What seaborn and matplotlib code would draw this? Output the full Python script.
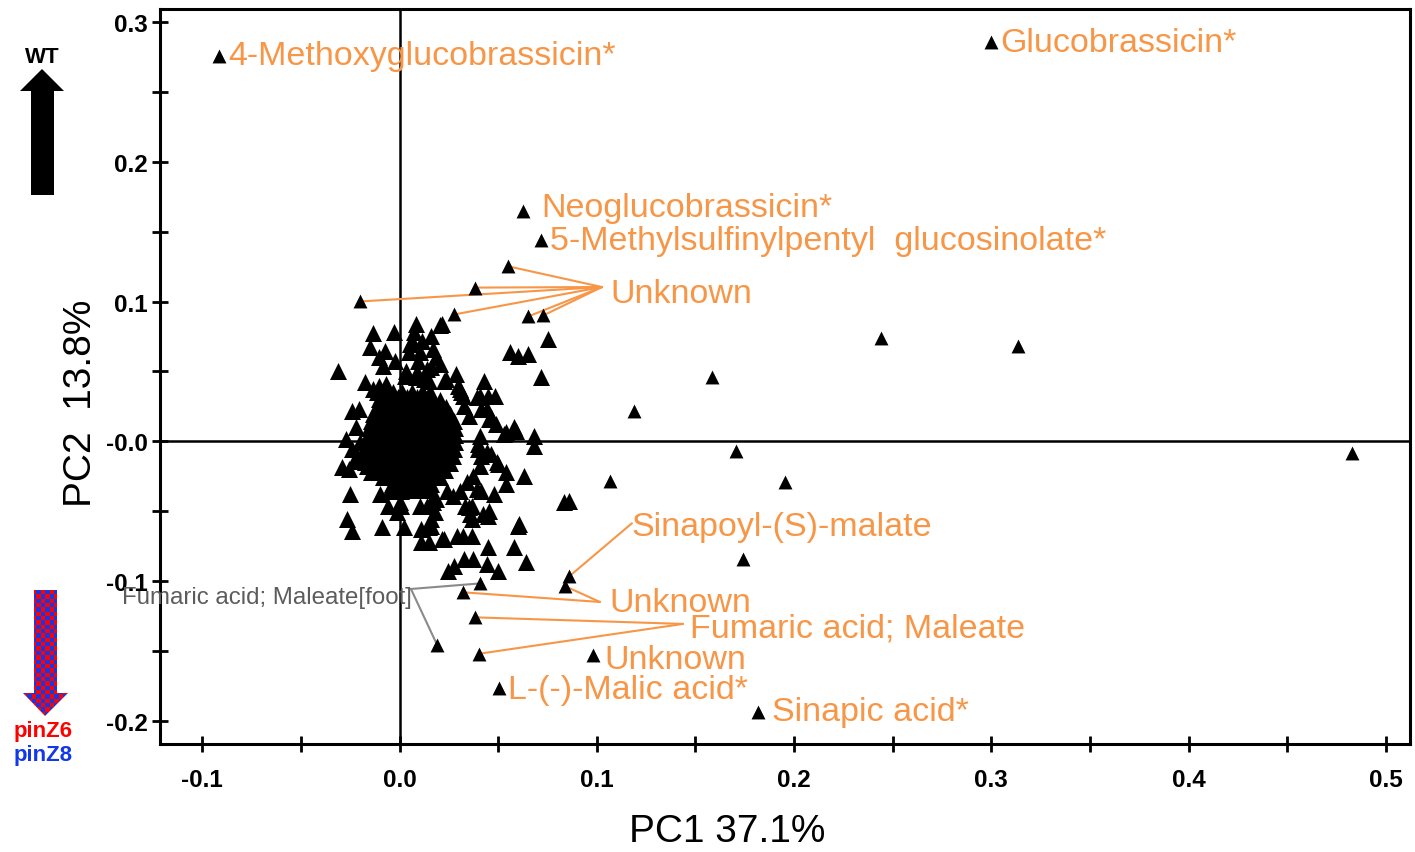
import numpy as np
import pandas as pd
import matplotlib
matplotlib.use("Agg")
import matplotlib.pyplot as plt
from matplotlib.patches import Polygon
from matplotlib.colors import ListedColormap
import seaborn as sns

# ---------------- loadings: annotated metabolites ----------------
single_names = ["4-Methoxyglucobrassicin*", "Glucobrassicin*", "Neoglucobrassicin*",
                "5-Methylsulfinylpentyl  glucosinolate*", "Unknown",
                "L-(-)-Malic acid*", "Sinapic acid*"]
single_pc1 = [-0.0916, 0.2997, 0.0628, 0.0719, 0.0982, 0.0506, 0.1818]
single_pc2 = [0.2760, 0.2854, 0.1645, 0.1438, -0.1531, -0.1767, -0.1939]

unknown_top_pc1 = [0.0552, 0.0385, -0.0198, 0.0278, 0.0653, 0.0729]
unknown_top_pc2 = [0.1252, 0.1100, 0.1001, 0.0908, 0.0894, 0.0901]

sinapoyl_pc1 = [0.0861]
sinapoyl_pc2 = [-0.0965]

unknown_mid_pc1 = [0.0841, 0.0324]
unknown_mid_pc2 = [-0.1037, -0.1080]

fumaric_pc1 = [0.0385, 0.0405]
fumaric_pc2 = [-0.1259, -0.1519]

fumaric_foot_pc1 = [0.0410, 0.0192]
fumaric_foot_pc2 = [-0.1016, -0.1460]

# ---------------- loadings: remaining features ----------------
far_pc1 = [0.2440, 0.3134, 0.1585, 0.1190, 0.1706, 0.4830, 0.1068, 0.1954, 0.1740]
far_pc2 = [0.0737, 0.0680, 0.0458, 0.0220, -0.0072, -0.0086, -0.0286, -0.0293, -0.0844]

upper_pc1 = [0.0086, 0.0203, -0.0132, -0.0030, -0.0152, -0.0076, 0.0076, 0.0116,
             0.0162, 0.0051, 0.0096, -0.0106, -0.0086, -0.0025, 0.0046, 0.0172,
             0.0187, 0.0203, 0.0162, -0.0314, 0.0035, -0.0177, -0.0106, -0.0066,
             0.0086, 0.0122, 0.0152, 0.0228, -0.0243, -0.0203, -0.0116, -0.0106]
upper_pc2 = [0.0837, 0.0830, 0.0773, 0.0780, 0.0672, 0.0644, 0.0780, 0.0715,
             0.0751, 0.0694, 0.0572, 0.0601, 0.0536, 0.0572, 0.0637, 0.0658,
             0.0601, 0.0551, 0.0529, 0.0501, 0.0501, 0.0422, 0.0393, 0.0408,
             0.0458, 0.0443, 0.0429, 0.0429, 0.0215, 0.0229, 0.0351, 0.0300]

right_pc1 = [0.0719, 0.0562, 0.0603, 0.0653, 0.0754, 0.0284, 0.0238, 0.0430,
             0.0410, 0.0451, 0.0486, 0.0213, 0.0441, 0.0415, 0.0491, 0.0466,
             0.0582, 0.0542, 0.0684, 0.0314, 0.0299, 0.0329, 0.0354]
right_pc2 = [0.0458, 0.0637, 0.0608, 0.0622, 0.0730, 0.0479, 0.0443, 0.0429,
             0.0322, 0.0322, 0.0322, 0.0837, 0.0229, 0.0229, 0.0122, 0.0172,
             0.0100, 0.0064, 0.0036, 0.0351, 0.0393, 0.0250, 0.0179]

lowleft_pc1 = [-0.0243, -0.0233, -0.0294, -0.0258, -0.0253, -0.0268, -0.0243, -0.0091,
               -0.0051, -0.0056, 0.0010, 0.0010, 0.0025, 0.0111, 0.0137, 0.0162,
               0.0162, 0.0111, 0.0147, 0.0213, 0.0187, -0.0142, -0.0177]
lowleft_pc2 = [-0.0057, -0.0143, -0.0186, -0.0200, -0.0379, -0.0558, -0.0644, -0.0615,
               -0.0358, -0.0465, -0.0358, -0.0465, -0.0615, -0.0629, -0.0465, -0.0558,
               -0.0608, -0.0722, -0.0722, -0.0701, -0.0415, -0.0222, -0.0150]

lowright_pc1 = [0.0684, 0.0633, 0.0542, 0.0481, 0.0415, 0.0365, 0.0365, 0.0456,
                0.0451, 0.0603, 0.0324, 0.0365, 0.0289, 0.0451, 0.0582, 0.0228,
                0.0329, 0.0375, 0.0441, 0.0643, 0.0835, 0.0861, 0.0501, 0.0542,
                0.0466, 0.0415, 0.0400, 0.0532, 0.0592, 0.0608, 0.0501, 0.0248,
                0.0278, 0.0147, 0.0354, 0.0157]
lowright_pc2 = [-0.0036, -0.0250, -0.0308, -0.0379, -0.0358, -0.0465, -0.0558, -0.0501,
                -0.0536, -0.0608, -0.0680, -0.0680, -0.0680, -0.0758, -0.0758, -0.0701,
                -0.0844, -0.0844, -0.0880, -0.0866, -0.0436, -0.0429, -0.0165, -0.0222,
                -0.0093, -0.0107, -0.0021, 0.0050, 0.0072, -0.0594, -0.0930, -0.0930,
                -0.0894, -0.0615, -0.0472, -0.0451]

ring_pc1 = [-0.0134, -0.0063, 0.0307, 0.0322, 0.0393, 0.0456, 0.0408, 0.0398,
            0.0443, 0.0494, 0.0408, 0.0372, 0.0342, 0.0393, 0.0307, 0.0241,
            0.0155, 0.0104, 0.0038, -0.0099, 0.0003, -0.0013, 0.0104, 0.0170,
            0.0180, 0.0271, 0.0332, 0.0357, 0.0423, -0.0215, -0.0165, -0.0200,
            -0.0150, -0.0134, -0.0114, -0.0063, 0.0028, 0.0089, 0.0139, 0.0104,
            0.0063, -0.0270, -0.0220, -0.0190]
ring_pc2 = [0.0375, 0.0318, 0.0375, 0.0325, 0.0318, 0.0158, 0.0039, -0.0054,
            -0.0075, -0.0147, -0.0176, -0.0248, -0.0290, -0.0340, -0.0355, -0.0355,
            -0.0340, -0.0326, -0.0290, -0.0376, -0.0433, -0.0505, -0.0462, -0.0433,
            -0.0505, -0.0390, -0.0462, -0.0519, -0.0519, -0.0104, -0.0176, -0.0004,
            0.0039, -0.0054, -0.0219, -0.0248, 0.0468, 0.0497, 0.0519, 0.0640,
            0.0718, 0.0020, 0.0100, -0.0080]

# dense core of the loadings, one PC2 level per row
core_pc2_levels = [0.032, 0.027, 0.022, 0.017, 0.012, 0.007, 0.002, -0.003,
                   -0.008, -0.013, -0.018, -0.023, -0.028, -0.032]
core_pc1_rows = [
    [-0.001, 0.004, 0.009, 0.013],
    [-0.006, -0.001, 0.004, 0.009, 0.014, 0.018],
    [-0.009, -0.004, 0.001, 0.006, 0.011, 0.016, 0.021],
    [-0.011, -0.006, -0.001, 0.004, 0.009, 0.014, 0.019, 0.023],
    [-0.013, -0.008, -0.003, 0.002, 0.007, 0.012, 0.017, 0.022, 0.025],
    [-0.013, -0.009, -0.004, 0.001, 0.006, 0.011, 0.016, 0.021, 0.025],
    [-0.014, -0.010, -0.005, 0.000, 0.005, 0.010, 0.015, 0.020, 0.025],
    [-0.013, -0.008, -0.003, 0.002, 0.007, 0.012, 0.017, 0.022, 0.026],
    [-0.013, -0.009, -0.004, 0.001, 0.006, 0.011, 0.016, 0.020, 0.025],
    [-0.011, -0.006, -0.001, 0.004, 0.009, 0.014, 0.019, 0.023],
    [-0.009, -0.005, 0.000, 0.005, 0.010, 0.015, 0.020],
    [-0.006, -0.002, 0.003, 0.008, 0.013, 0.018],
    [-0.002, 0.003, 0.008, 0.013],
    [0.001, 0.006, 0.011],
]
core2_pc2_levels = [0.035, 0.0295, 0.0245, 0.0195, 0.0145, 0.0095, 0.0045, -0.0005,
                    -0.0055, -0.0105, -0.0155, -0.0205, -0.0255, -0.0305, -0.035]
core2_pc1_rows = [
    [-0.0035, 0.0015, 0.0065, 0.0115, 0.0155],
    [-0.0085, -0.0035, 0.0015, 0.0065, 0.0115, 0.0165, 0.0205],
    [-0.0115, -0.0065, -0.0015, 0.0035, 0.0085, 0.0135, 0.0185, 0.0235],
    [-0.0135, -0.0085, -0.0035, 0.0015, 0.0065, 0.0115, 0.0165, 0.0215, 0.0255],
    [-0.0145, -0.0105, -0.0055, -0.0005, 0.0045, 0.0095, 0.0145, 0.0195, 0.0245, 0.0275],
    [-0.0155, -0.0115, -0.0065, -0.0015, 0.0035, 0.0085, 0.0135, 0.0185, 0.0235, 0.0280],
    [-0.0160, -0.0115, -0.0065, -0.0015, 0.0035, 0.0085, 0.0135, 0.0185, 0.0235, 0.0280],
    [-0.0160, -0.0115, -0.0065, -0.0015, 0.0035, 0.0085, 0.0135, 0.0185, 0.0235, 0.0280],
    [-0.0155, -0.0110, -0.0060, -0.0010, 0.0040, 0.0090, 0.0140, 0.0190, 0.0240, 0.0275],
    [-0.0145, -0.0100, -0.0050, 0.0000, 0.0050, 0.0100, 0.0150, 0.0200, 0.0250, 0.0270],
    [-0.0130, -0.0085, -0.0035, 0.0015, 0.0065, 0.0115, 0.0165, 0.0215, 0.0255],
    [-0.0110, -0.0065, -0.0015, 0.0035, 0.0085, 0.0135, 0.0185, 0.0230],
    [-0.0085, -0.0035, 0.0015, 0.0065, 0.0115, 0.0165, 0.0205],
    [-0.0040, 0.0010, 0.0060, 0.0110, 0.0160],
    [0.0010, 0.0060, 0.0110],
]

x_ticks = [-0.1, 0.0, 0.1, 0.2, 0.3, 0.4, 0.5]
x_tick_labels = ["-0.1", "0.0", "0.1", "0.2", "0.3", "0.4", "0.5"]
x_minor = [-0.05, 0.05, 0.15, 0.25, 0.35, 0.45]
y_ticks = [-0.2, -0.1, 0.0, 0.1, 0.2, 0.3]
y_tick_labels = ["-0.2", "-0.1", "-0.0", "0.1", "0.2", "0.3"]
y_minor = [-0.15, -0.05, 0.05, 0.15, 0.25]

# ---------------- assemble frames ----------------
def flatten_rows(levels, rows):
    xs = [x for row in rows for x in row]
    ys = [lvl for lvl, row in zip(levels, rows) for _ in row]
    return xs, ys

core_x, core_y = flatten_rows(core_pc2_levels, core_pc1_rows)
core2_x, core2_y = flatten_rows(core2_pc2_levels, core2_pc1_rows)

cluster = pd.DataFrame({
    "PC1": core_x + core2_x + upper_pc1 + right_pc1 + lowleft_pc1 + lowright_pc1 + ring_pc1,
    "PC2": core_y + core2_y + upper_pc2 + right_pc2 + lowleft_pc2 + lowright_pc2 + ring_pc2,
})
outer = pd.DataFrame({
    "PC1": far_pc1 + single_pc1 + unknown_top_pc1 + sinapoyl_pc1 + unknown_mid_pc1
           + fumaric_pc1 + fumaric_foot_pc1,
    "PC2": far_pc2 + single_pc2 + unknown_top_pc2 + sinapoyl_pc2 + unknown_mid_pc2
           + fumaric_pc2 + fumaric_foot_pc2,
})

# ---------------- figure ----------------
sns.set_style("white")
plt.rcParams["font.family"] = ["Liberation Sans", "DejaVu Sans"]
plt.rcParams["text.color"] = "black"
plt.rcParams["xtick.color"] = "black"
plt.rcParams["ytick.color"] = "black"
plt.rcParams["axes.labelcolor"] = "black"

W, H = 1415, 853
fig = plt.figure(figsize=(W / 100, H / 100), dpi=100)
ax = fig.add_axes([160 / W, 1 - 745 / H, 1250 / W, 735 / H])

ax.axhline(0, color="black", lw=1.8, zorder=1)
ax.axvline(0, color="black", lw=1.8, zorder=1)

sns.scatterplot(data=cluster, x="PC1", y="PC2", marker="^", s=150, color="black",
                linewidth=0, ax=ax, zorder=3, legend=False)
sns.scatterplot(data=outer, x="PC1", y="PC2", marker="^", s=100, color="black",
                linewidth=0, ax=ax, zorder=3, legend=False)

ORANGE = "#F79646"
GREY_TEXT = "#5C5C5C"
GREY_LINE = "#8A8A8A"
LABEL_FS = 24.5

# labels sitting next to a single point
single_offsets = [(7, 0), (7, 0), (13, 3), (6, 0), (8, -3), (6, -1), (10, 1)]
for name, x, y, off in zip(single_names, single_pc1, single_pc2, single_offsets):
    ax.annotate(name, (x, y), xytext=off, textcoords="offset points",
                ha="left", va="center", color=ORANGE, fontsize=LABEL_FS, zorder=4)

# labels with leader lines fanning out to several points
leader_groups = [
    ("Unknown", unknown_top_pc1, unknown_top_pc2, (0.1026, 0.1104), (6, -5), "left", ORANGE, ORANGE, LABEL_FS),
    ("Sinapoyl-(S)-malate", sinapoyl_pc1, sinapoyl_pc2, (0.1178, -0.0586), (0, -2), "left", ORANGE, ORANGE, LABEL_FS),
    ("Unknown", unknown_mid_pc1, unknown_mid_pc2, (0.1016, -0.1149), (7, -0.5), "left", ORANGE, ORANGE, LABEL_FS),
    ("Fumaric acid; Maleate", fumaric_pc1, fumaric_pc2, (0.1437, -0.1306), (5, -3), "left", ORANGE, ORANGE, LABEL_FS),
    ("Fumaric acid; Maleate[foot]", fumaric_foot_pc1, fumaric_foot_pc2, (0.0058, -0.1056), (1, -6), "right", GREY_TEXT, GREY_LINE, 17.3),
]
for text, xs, ys, anchor, off, ha, tcol, lcol, fs in leader_groups:
    for x, y in zip(xs, ys):
        ax.plot([anchor[0], x], [anchor[1], y], color=lcol, lw=1.5, zorder=2,
                solid_capstyle="round")
    ax.annotate(text, anchor, xytext=off, textcoords="offset points",
                ha=ha, va="center", color=tcol, fontsize=fs, zorder=4)

ax.set_xlim(-0.1214, 0.5122)
ax.set_ylim(-0.2165, 0.3093)

ax.set_xticks(x_ticks)
ax.set_xticklabels(x_tick_labels, fontsize=17.5, fontweight="bold")
ax.set_xticks(x_minor, minor=True)
ax.set_yticks(y_ticks)
ax.set_yticklabels(y_tick_labels, fontsize=17.5, fontweight="bold")
ax.set_yticks(y_minor, minor=True)
ax.tick_params(axis="both", which="both", direction="inout", length=12, width=2,
               color="black", bottom=True, left=True, top=False, right=False)
ax.tick_params(axis="x", which="major", pad=11)
ax.tick_params(axis="y", which="major", pad=3)
ax.set_xlabel("")
ax.set_ylabel("")
for sp in ax.spines.values():
    sp.set_visible(True)
    sp.set_linewidth(2.2)
    sp.set_color("black")

fig.text(727 / W, 1 - 832 / H, "PC1 37.1%", ha="center", va="center", fontsize=28)
fig.text(81 / W, 1 - 403 / H, "PC2  13.8%", ha="center", va="center",
         fontsize=28, rotation=90)

# ---------------- group direction arrows in the left margin ----------------
ov = fig.add_axes([0, 0, 1, 1])
ov.set_axis_off()

up_arrow = Polygon([(31, 196), (31, 92), (20, 92), (42, 70), (64, 92), (54, 92), (54, 196)],
                   closed=True, facecolor="black", edgecolor="none")
ov.add_patch(up_arrow)
ov.text(42, 57, "WT", ha="center", va="center", fontsize=16, fontweight="bold")

down_arrow = Polygon([(34, 591), (57, 591), (57, 694), (68, 694), (45, 717), (23, 694), (34, 694)],
                     closed=True, facecolor="none", edgecolor="none")
ov.add_patch(down_arrow)
ii, jj = np.indices((29, 10))
checker = (ii + jj) % 2
img = ov.imshow(checker, extent=(23, 68, 717, 591), origin="upper", aspect="auto",
                interpolation="nearest", cmap=ListedColormap(["#FF0000", "#1238E8"]))
img.set_clip_path(down_arrow)
ov.text(43, 731, "pinZ6", ha="center", va="center", fontsize=16, fontweight="bold", color="#FF0000")
ov.text(43, 756, "pinZ8", ha="center", va="center", fontsize=16, fontweight="bold", color="#1238E8")

ov.set_xlim(0, W)
ov.set_ylim(H, 0)

fig.savefig("out.png", dpi=100)
